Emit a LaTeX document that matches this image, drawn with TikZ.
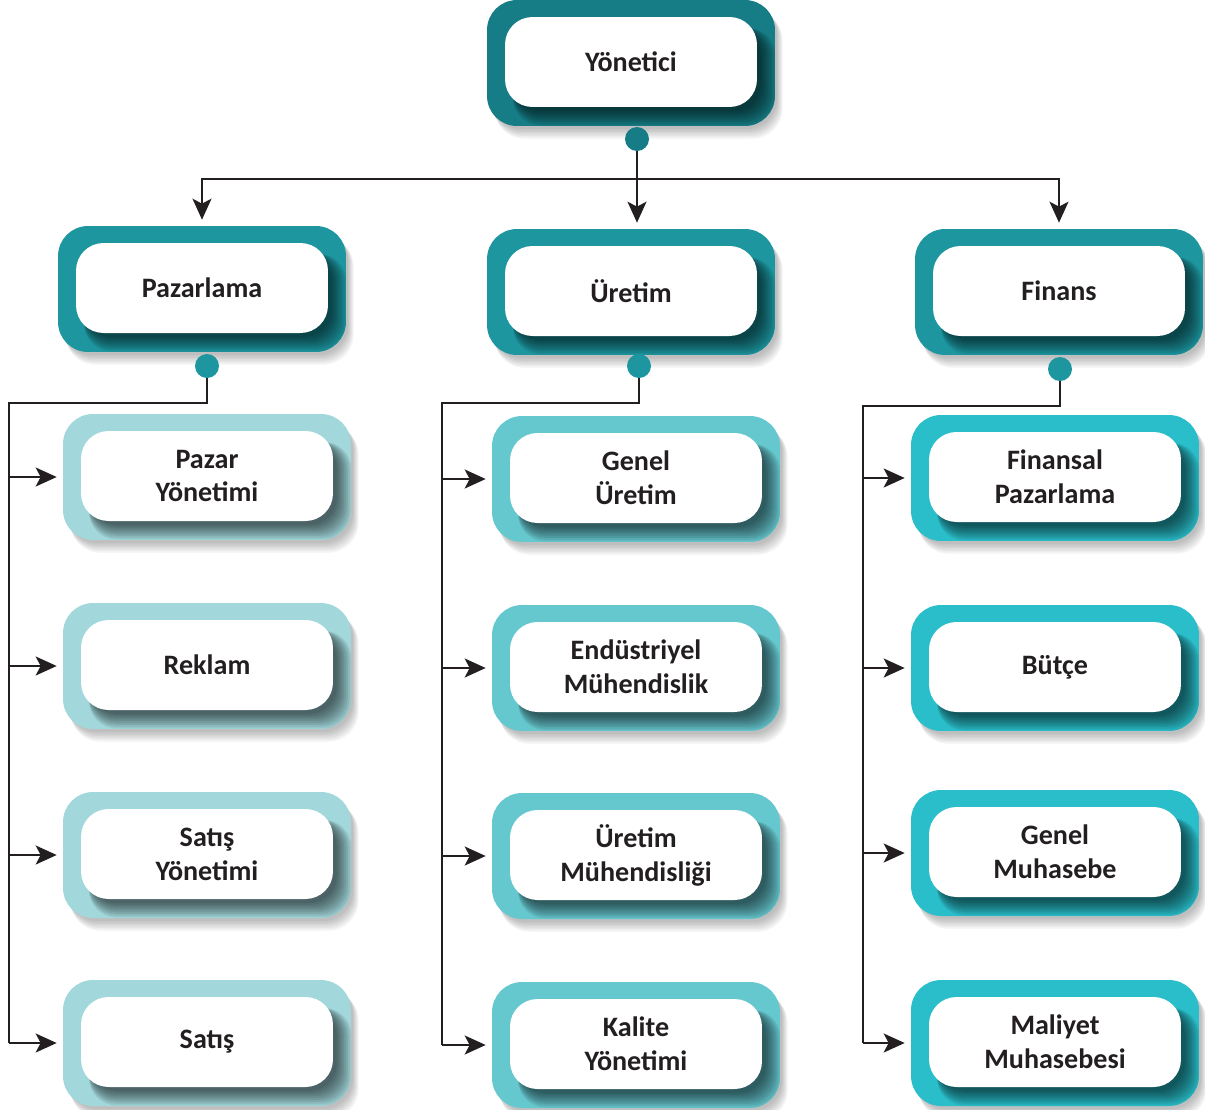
\documentclass[tikz,border=0pt]{standalone}
\usepackage{fontspec}
\setmainfont{Carlito}
\usetikzlibrary{arrows.meta}

\definecolor{ink}{HTML}{231F20}
\definecolor{cTop}{HTML}{167C85}
\definecolor{cMid}{HTML}{1D96A0}
\definecolor{cLeft}{HTML}{A2D8DC}
\definecolor{cCen}{HTML}{66C8CF}
\definecolor{cRight}{HTML}{2ABECA}

\newcommand\labelfont{\fontsize{16}{19.3}\selectfont\bfseries}

\tikzset{
  outerbox/.style={rectangle, rounded corners=0.6cm, minimum width=5.76cm,
    minimum height=2.52cm, inner sep=0pt},
  innerbox/.style={rectangle, rounded corners=0.55cm, fill=white,
    minimum width=5.04cm, minimum height=1.8cm, align=center,
    font=\labelfont, text=ink, inner sep=0pt},
  dot/.style={circle, minimum size=0.48cm, inner sep=0pt},
  wire/.style={draw=ink, line width=1.2pt},
  arr/.style={wire, -{Stealth[length=0.42cm,width=0.38cm,inset=0.1cm]},
    shorten >=0.12cm},
}

% A framed unit: coloured frame with soft shadow, white label card inside.
% #1 name, #2 x, #3 y (pixel units), #4 frame colour, #5 label
\newcommand\orgbox[5]{%
  \begin{scope}[shift={(#2,#3)}]
    \foreach \k in {0,...,7}{
      \fill[black,opacity=0.035,rounded corners=0.6cm]
        (-140+\k*0.5,-58+\k*0.8) rectangle (146+\k*0.8,66+\k*1.4);
    }
    \node[outerbox,fill=#4] (#1) at (0,0) {};
    \begin{scope}
      \clip[rounded corners=0.6cm] (-144,-63) rectangle (144,63);
      \foreach \k in {0,...,8}{
        \fill[black,opacity=0.08,rounded corners=0.55cm]
          (-118,-35) rectangle (130+\k*1.8,48+\k*1.8);
      }
    \end{scope}
    \node[innerbox] (#1-t) at (0,-1) {#5};
  \end{scope}}

\begin{document}
\begin{tikzpicture}[x=0.02cm,y=-0.02cm]
\useasboundingbox (0,0) rectangle (1205,1110);

% top level
\orgbox{yon}{631}{63}{cTop}{Yönetici}

% departments
\orgbox{paz}{202}{289}{cMid}{Pazarlama}
\orgbox{ure}{631}{292}{cMid}{Üretim}
\orgbox{fin}{1059}{292}{cMid}{Finans}

% marketing units
\orgbox{l1}{207}{477}{cLeft}{Pazar\\Yönetimi}
\orgbox{l2}{207}{666}{cLeft}{Reklam}
\orgbox{l3}{207}{855}{cLeft}{Satış\\Yönetimi}
\orgbox{l4}{207}{1043}{cLeft}{Satış}

% production units
\orgbox{m1}{636}{479}{cCen}{Genel\\Üretim}
\orgbox{m2}{636}{668}{cCen}{Endüstriyel\\Mühendislik}
\orgbox{m3}{636}{856}{cCen}{Üretim\\Mühendisliği}
\orgbox{m4}{636}{1045}{cCen}{Kalite\\Yönetimi}

% finance units
\orgbox{r1}{1055}{478}{cRight}{Finansal\\Pazarlama}
\orgbox{r2}{1055}{668}{cRight}{Bütçe}
\orgbox{r3}{1055}{853}{cRight}{Genel\\Muhasebe}
\orgbox{r4}{1055}{1043}{cRight}{Maliyet\\Muhasebesi}

% connection dots
\node[dot,fill=cTop] (yd) at (637,139) {};
\node[dot,fill=cMid] (pd) at (207,366) {};
\node[dot,fill=cMid] (ud) at (639,366) {};
\node[dot,fill=cMid] (fd) at (1060,369) {};

% top level to departments
\coordinate (bar) at (637,179);
\draw[wire] (yd.south) -- (bar);
\draw[arr] (bar) -- (bar |- ure.north);
\draw[arr] (bar) -| (paz.north);
\draw[arr] (bar) -| (fin.north);

% departments to units
\coordinate (pc) at (9,403);
\coordinate (uc) at (442,403);
\coordinate (fc) at (863,406);
\draw[wire] (pd.south) |- (pc) -- (pc |- l4.west);
\draw[wire] (ud.south) |- (uc) -- (uc |- m4.west);
\draw[wire] (fd.south) |- (fc) -- (fc |- r4.west);
\foreach \n in {l1,l2,l3,l4} \draw[arr] (pc |- \n.west) -- (\n.west);
\foreach \n in {m1,m2,m3,m4} \draw[arr] (uc |- \n.west) -- (\n.west);
\foreach \n in {r1,r2,r3,r4} \draw[arr] (fc |- \n.west) -- (\n.west);
\end{tikzpicture}
\end{document}
